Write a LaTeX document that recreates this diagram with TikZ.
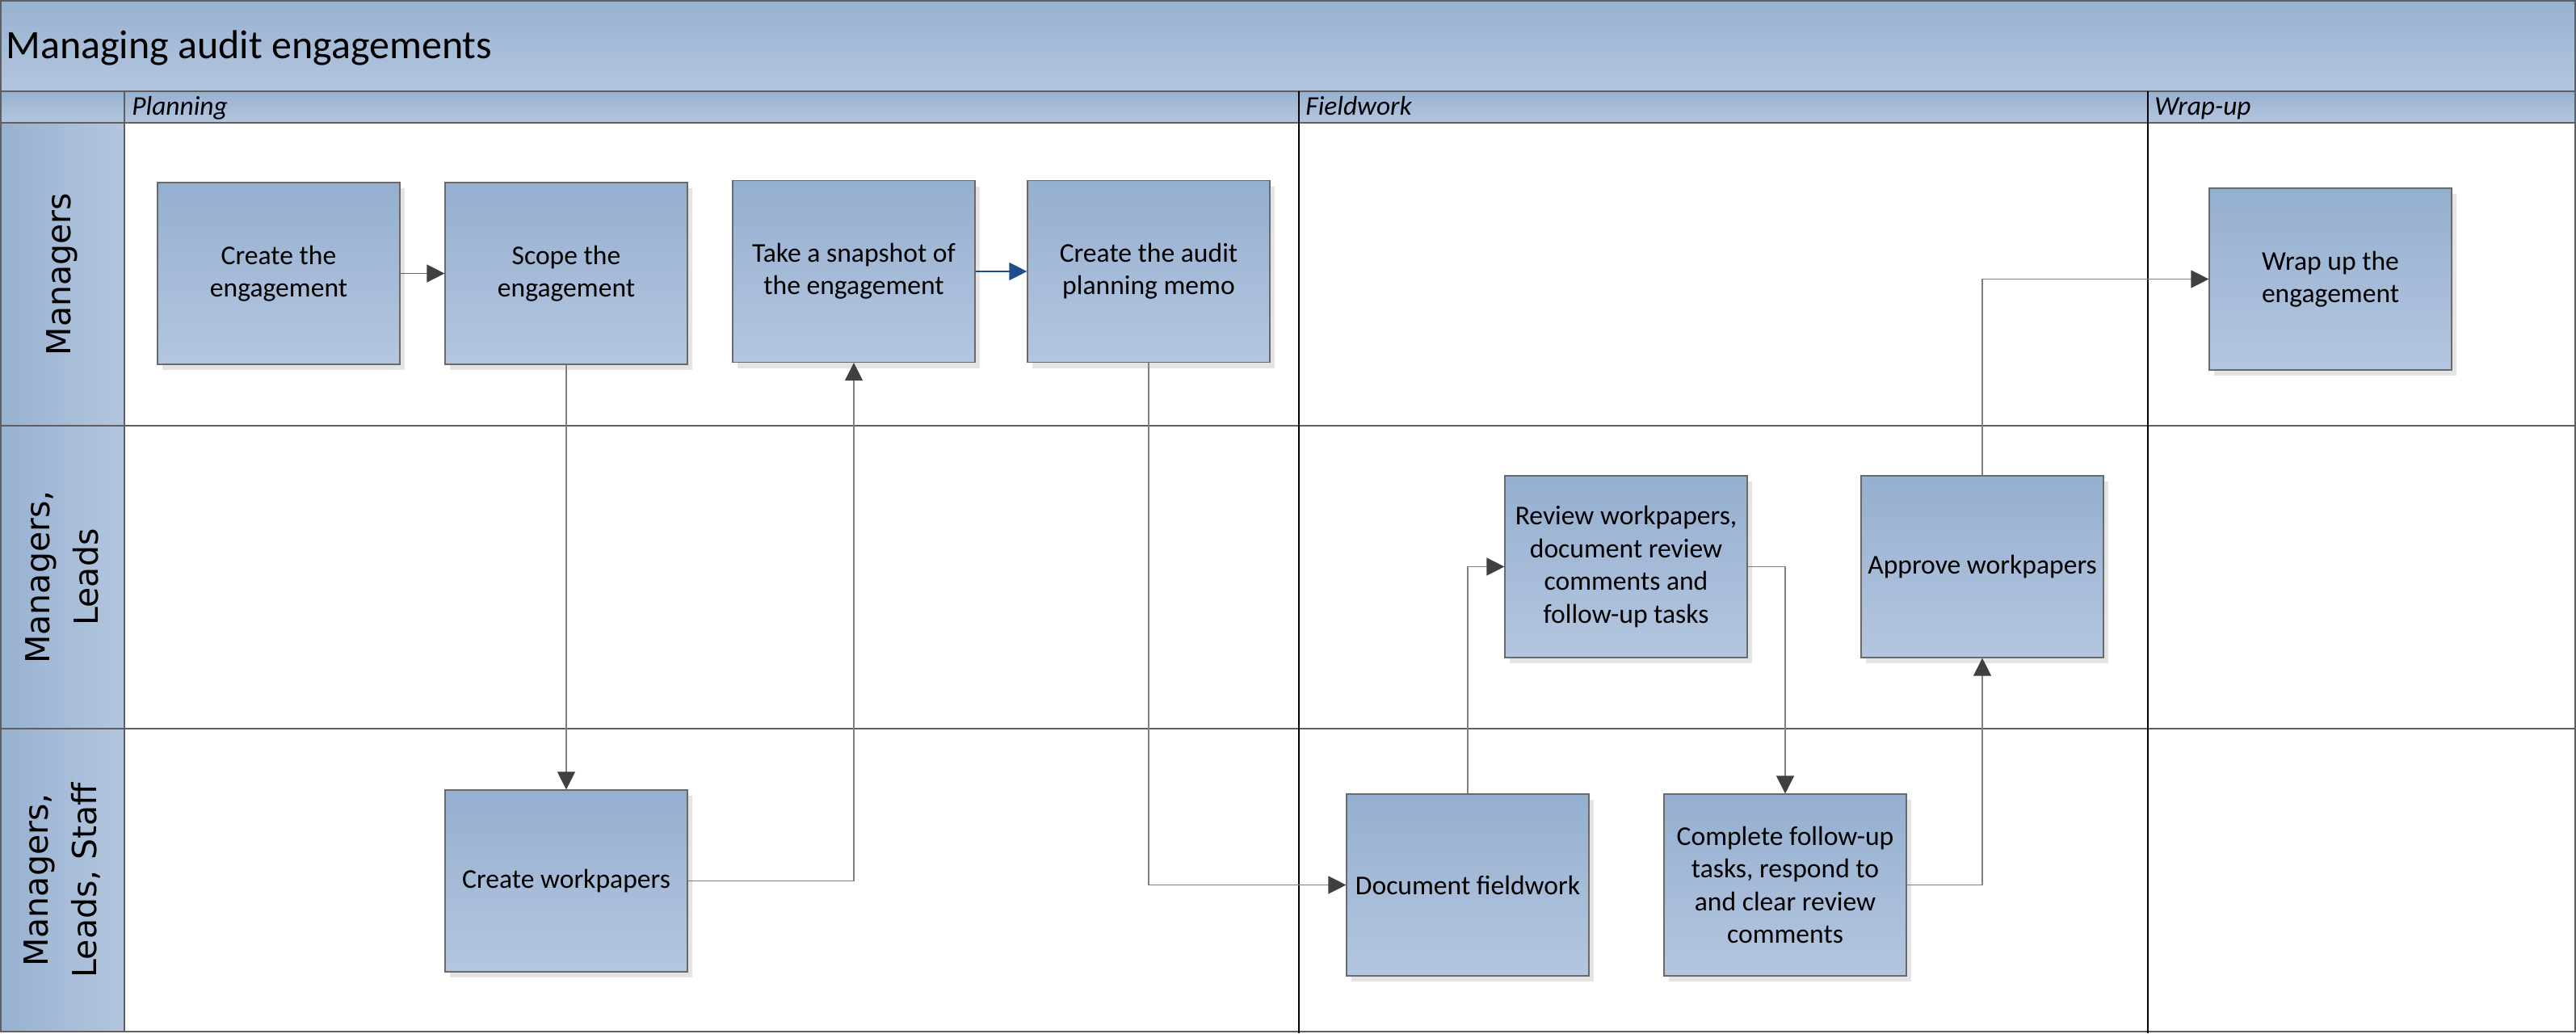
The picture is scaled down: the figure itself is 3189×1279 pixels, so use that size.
\documentclass[tikz,border=0pt]{standalone}
\usepackage{fontspec}
\setmainfont{Carlito}
\newfontfamily\lanefont{DejaVu Sans}
\usetikzlibrary{arrows.meta,shadows}
\definecolor{boxtop}{HTML}{95AFD0}
\definecolor{boxbot}{HTML}{B4C6DF}
\definecolor{bartop}{HTML}{97B1D1}
\definecolor{barbot}{HTML}{B4C6DE}
\definecolor{frame}{HTML}{5F5F5F}
\definecolor{boxedge}{HTML}{6A6A6A}
\definecolor{shade}{HTML}{E4E4E4}
\definecolor{conn}{HTML}{808080}
\definecolor{tipdark}{HTML}{404040}
\definecolor{connblue}{HTML}{1F4E8C}
\tikzset{
  x=0.5pt, y=-0.5pt,
  stepbox/.style={draw=boxedge, line width=0.6pt, top color=boxtop, bottom color=boxbot,
    minimum width=150pt, minimum height=112.5pt, inner sep=0pt, align=center,
    font=\fontsize{16.8pt}{20.2pt}\selectfont,
    drop shadow={shadow xshift=3pt, shadow yshift=-3.5pt, fill=shade, opacity=1}},
  conline/.style={draw=conn, line width=0.6pt, -{Triangle[length=11pt,width=11pt,color=tipdark]}},
  darkline/.style={draw=tipdark!80, line width=0.6pt, -{Triangle[length=11pt,width=11pt,color=tipdark]}},
  blueline/.style={draw=connblue, line width=0.6pt, -{Triangle[length=11pt,width=11pt,color=connblue]}},
  lanelabel/.style={rotate=90, align=center, font=\lanefont\fontsize{20.5pt}{30pt}\selectfont},
  phaselabel/.style={anchor=base west, inner sep=0pt, font=\fontsize{16.7pt}{20pt}\selectfont\itshape},
  gridline/.style={draw=frame, line width=1pt},
  phaseline/.style={draw=black, line width=1.3pt}
}
\begin{document}
\begin{tikzpicture}
\useasboundingbox (0,0) rectangle (3189,1279);
\fill[white] (0,0) rectangle (3189,1279);
% title bar
\shade[top color=bartop, bottom color=barbot] (0,0) rectangle (3189,113);
\node[anchor=base west, inner sep=0pt, font=\fontsize{25pt}{30pt}\selectfont] (title) at (7,73) {Managing audit engagements};
% phase header
\shade[top color=bartop, bottom color=barbot] (0,113) rectangle (3189,152);
\node[phaselabel] (plan) at (163,142) {Planning};
\node[phaselabel] (field) at (1616,142) {Fieldwork};
\node[phaselabel] (wrapl) at (2667,142) {Wrap-up};
% lane label column
\shade[left color=bartop, right color=barbot] (0,152) rectangle (154,1277);
\node[lanelabel] (l1) at (77,339.5) {Managers};
\node[lanelabel] (l2) at (77,714.5) {Managers,\\Leads};
\node[lanelabel] (l3) at (77,1089.5) {Managers,\\Leads, Staff};
% grid lines
\draw[gridline] (0,113) -- (3189,113);
\draw[gridline] (0,152) -- (3189,152);
\draw[gridline] (0,527) -- (3189,527);
\draw[gridline] (0,902) -- (3189,902);
\draw[gridline] (154,113) -- (154,1277);
\draw[gridline] (1,1) rectangle (3188,1277);
% phase separators
\draw[phaseline] (1608,113) -- (1608,1279);
\draw[phaseline] (2659,113) -- (2659,1279);
% steps
\node[stepbox] (create) at (345,338.5) {Create the\\engagement};
\node[stepbox] (scope) at (701,338.5) {Scope the\\engagement};
\node[stepbox] (snap) at (1057,336) {Take a snapshot of\\the engagement};
\node[stepbox] (memo) at (1422,336) {Create the audit\\planning memo};
\node[stepbox] (wrap) at (2885,345.5) {Wrap up the\\engagement};
\node[stepbox] (review) at (2013,701.5) {Review workpapers,\\document review\\comments and\\follow-up tasks};
\node[stepbox] (approve) at (2454,701.5) {Approve workpapers};
\node[stepbox] (docf) at (1817,1095.5) {Document fieldwork};
\node[stepbox] (complete) at (2210,1095.5) {Complete follow-up\\tasks, respond to\\and clear review\\comments};
\node[stepbox] (createwp) at (701,1090.5) {Create workpapers};
% connectors
\draw[darkline] (create.east) -- (scope.west);
\draw[conline] (scope.south) -- (createwp.north);
\draw[conline] (createwp.east) -| (snap.south);
\draw[blueline] (snap.east) -- (memo.west);
\draw[conline] (memo.south) |- (docf.west);
\draw[conline] (docf.north) |- (review.west);
\draw[conline] (review.east) -| (complete.north);
\draw[conline] (complete.east) -| (approve.south);
\draw[conline] (approve.north) |- (wrap.west);
\end{tikzpicture}
\end{document}
